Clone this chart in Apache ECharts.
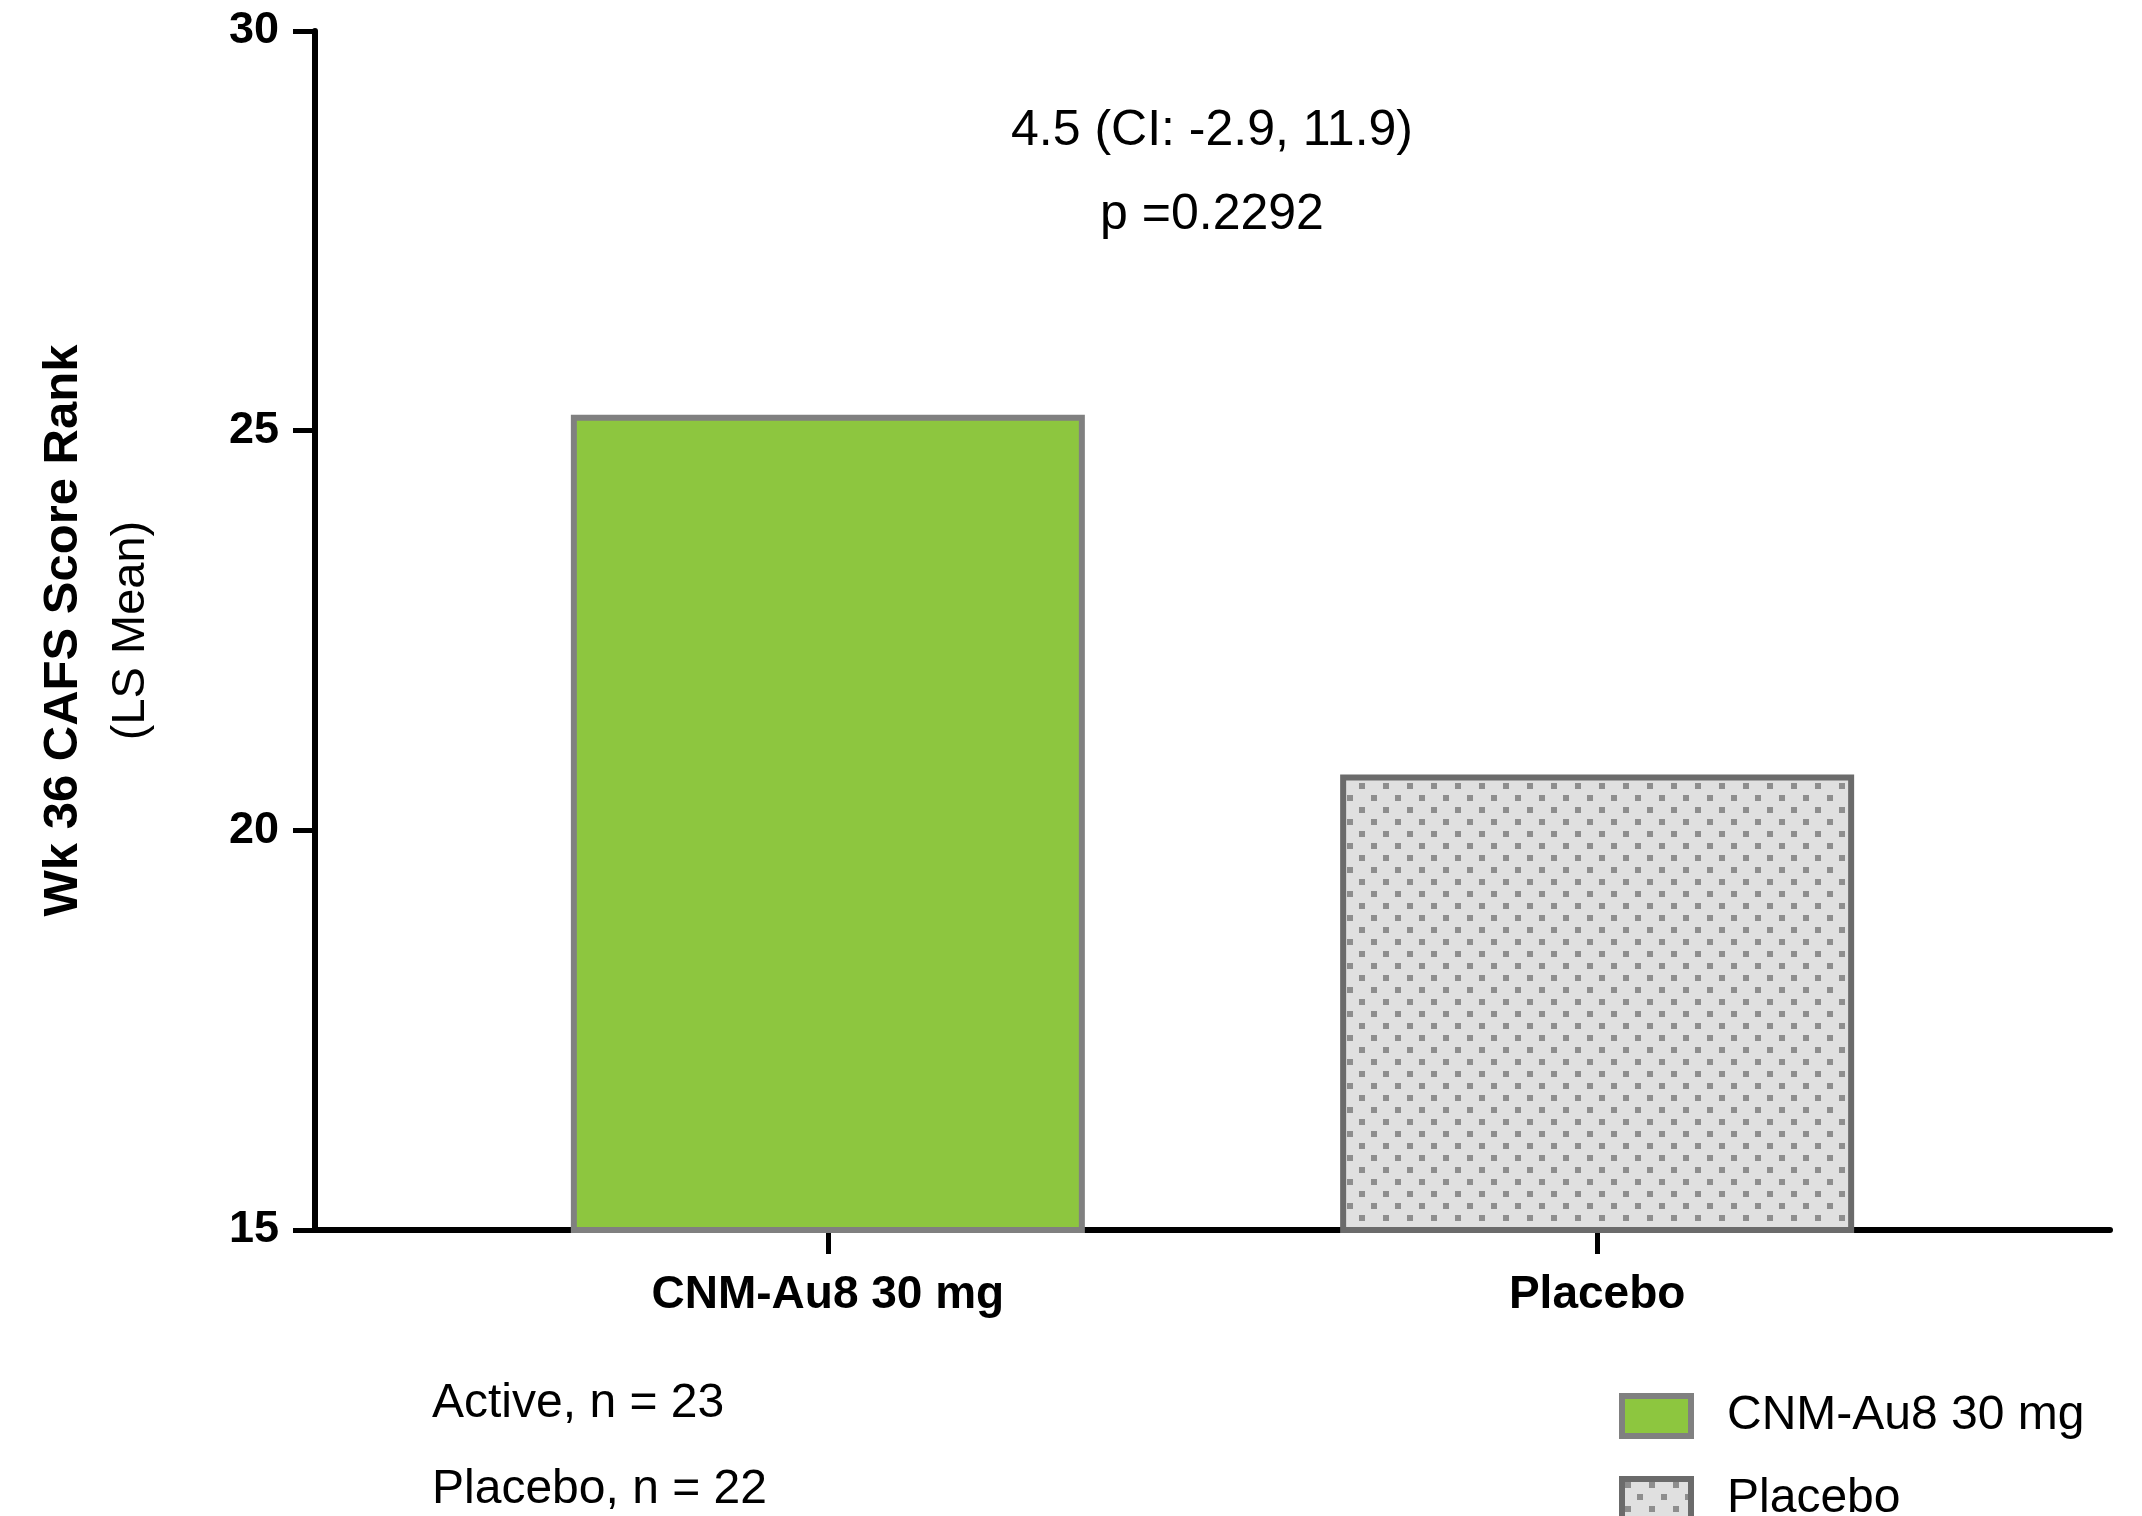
<!DOCTYPE html>
<html>
<head>
<meta charset="utf-8">
<script src="https://cdn.jsdelivr.net/npm/echarts@6/dist/echarts.min.js"></script>
<style>
  html, body { margin: 0; padding: 0; background: #fff; }
  #chart { width: 2142px; height: 1516px; }
</style>
</head>
<body>
<div id="chart"></div>
<script>
// values
const groups = ['CNM-Au8 30 mg', 'Placebo'];
const lsMeans = [25.2, 20.7];
const groupPos = [1, 2];
const sampleLabels = ['Active, n = 23', 'Placebo, n = 22'];
const yTicks = [15, 20, 25, 30];
const diffText = ['4.5 (CI: -2.9, 11.9)', 'p =0.2292'];

const font = '"Liberation Sans", Arial, Helvetica, sans-serif';

// dotted fill for placebo
const tile = document.createElement('canvas');
tile.width = 24;
tile.height = 24;
const tc = tile.getContext('2d');
tc.fillStyle = '#e0e0e0';
tc.fillRect(0, 0, 24, 24);
tc.fillStyle = '#8e8e8e';
tc.fillRect(3, 3, 6, 6);
tc.fillRect(15, 15, 6, 6);

const chart = echarts.init(document.getElementById('chart'));

chart.setOption({
    animation: false,
    backgroundColor: '#fff',
    grid: { left: 315, right: 32, top: 31, bottom: 286 },
    xAxis: {
        type: 'value',
        min: 1 / 3,
        max: 8 / 3,
        splitLine: { show: false },
        axisLine: { onZero: false, lineStyle: { color: '#000', width: 6 } },
        axisTick: { customValues: groupPos, length: 24, lineStyle: { color: '#000', width: 5 } },
        axisLabel: {
            customValues: groupPos,
            formatter: v => groups[Math.round(v) - 1],
            margin: 42,
            color: '#000',
            fontFamily: font,
            fontWeight: 'bold',
            fontSize: 46
        }
    },
    yAxis: {
        type: 'value',
        min: yTicks[0],
        max: yTicks[yTicks.length - 1],
        interval: 5,
        splitLine: { show: false },
        axisLine: { show: true, onZero: false, lineStyle: { color: '#000', width: 6 } },
        axisTick: { show: true, length: 22, lineStyle: { color: '#000', width: 5 } },
        axisLabel: {
            margin: 36,
            color: '#000',
            fontFamily: font,
            fontWeight: 'bold',
            fontSize: 45
        },
        name: '{t|Wk 36 CAFS Score Rank}\n{s|(LS Mean)}',
        nameLocation: 'middle',
        nameRotate: 90,
        nameGap: 150,
        nameTextStyle: {
            rich: {
                t: { fontFamily: font, fontWeight: 'bold', fontSize: 49, color: '#000', lineHeight: 68 },
                s: { fontFamily: font, fontSize: 47, color: '#000', lineHeight: 68 }
            }
        }
    },
    legend: {
        orient: 'vertical',
        left: 1619,
        top: 1392,
        height: 300,
        padding: 0,
        itemWidth: 69,
        itemHeight: 40,
        itemGap: 35,
        icon: 'rect',
        data: [
            { name: groups[0], itemStyle: { borderColor: '#808080', borderWidth: 6 } },
            { name: groups[1], itemStyle: { borderColor: '#6b6b6b', borderWidth: 6 } }
        ],
        textStyle: {
            fontFamily: font,
            fontSize: 48,
            color: '#000',
            lineHeight: 40,
            padding: [0, 0, 0, 31]
        }
    },
    graphic: [
        {
            type: 'text',
            x: 1212,
            y: 89,
            style: {
                text: diffText.join('\n'),
                fontFamily: font,
                fontSize: 50,
                lineHeight: 84,
                fill: '#000',
                align: 'center'
            }
        },
        {
            type: 'text',
            x: 432,
            y: 1361,
            style: {
                text: sampleLabels.join('\n'),
                fontFamily: font,
                fontSize: 48,
                lineHeight: 86,
                fill: '#000'
            }
        }
    ],
    series: [
        {
            name: groups[0],
            type: 'bar',
            barWidth: 514,
            barGap: '-100%',
            data: [[groupPos[0], lsMeans[0]]],
            itemStyle: { color: '#8dc63f', borderColor: '#808080', borderWidth: 6 }
        },
        {
            name: groups[1],
            type: 'bar',
            barWidth: 514,
            barGap: '-100%',
            data: [[groupPos[1], lsMeans[1]]],
            itemStyle: {
                color: { image: tile, repeat: 'repeat' },
                borderColor: '#6b6b6b',
                borderWidth: 6
            }
        }
    ]
});
</script>
</body>
</html>
